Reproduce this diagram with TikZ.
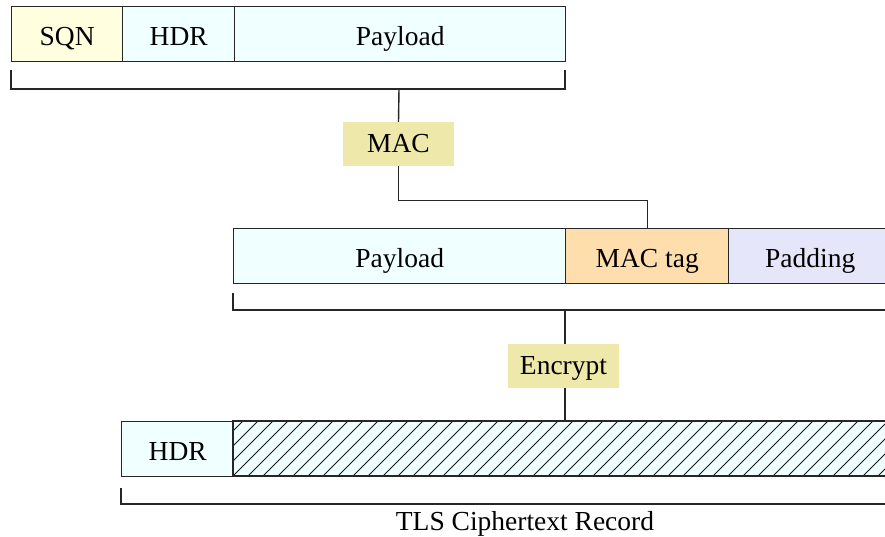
\documentclass[tikz,border=0pt]{standalone}
\usepackage{fontspec}
\setmainfont{Liberation Serif}
\definecolor{sqnc}{HTML}{FFFFE0}
\definecolor{cyanc}{HTML}{F0FFFF}
\definecolor{opc}{HTML}{EEE8AA}
\definecolor{tagc}{HTML}{FFDEAD}
\definecolor{padc}{HTML}{E6E6FA}
\begin{document}
\begin{tikzpicture}[x=1pt,y=-1pt,
  cell/.style={draw=black!85, line width=1.4pt, rectangle, inner sep=0pt,
    minimum height=55pt, text height=23.5pt, text depth=0pt,
    anchor=north west, font=\fontsize{27.5}{32}\selectfont},
  opbox/.style={fill=opc, rectangle, inner sep=0pt, minimum width=111pt,
    minimum height=44pt, text height=18.5pt, text depth=2pt,
    font=\fontsize{27.5}{32}\selectfont},
  wire/.style={draw=black!85, line width=1.4pt},
  hatchline/.style={draw=black!90, line width=0.8pt}]
\useasboundingbox (0,0) rectangle (885,536);
% row 1
\node[cell, fill=sqnc, minimum width=111pt] (sqn) at (11,6) {SQN};
\node[cell, fill=cyanc, minimum width=112pt] (hdr1) at (122,6) {HDR};
\node[cell, fill=cyanc, minimum width=331pt] (pay1) at (234,6) {Payload};
\draw[wire] (11,70) -- (11,89) -- (565,89) -- (565,70);
\coordinate (b1) at (399,89);
% MAC
\node[opbox] (mac) at (398.5,144) {MAC};
\draw[wire] (b1) -- (mac.north);
% row 2
\node[cell, fill=cyanc, minimum width=332pt] (pay2) at (233,228) {Payload};
\node[cell, fill=tagc, minimum width=163pt] (tag) at (565,228) {MAC tag};
\node[cell, fill=padc, minimum width=163pt] (pad) at (728,228) {Padding};
\draw[wire] (mac.south) -- ++(0,34) -| (tag.north);
\draw[wire] (233,293) -- (233,310) -- (895,310);
\coordinate (b2) at (565,310);
% Encrypt
\node[opbox] (enc) at (563.5,366) {Encrypt};
\draw[wire] (b2) -- (b2 |- enc.north);
% row 3
\node[cell, fill=cyanc, minimum width=112pt] (hdr3) at (121,421) {HDR};
\node[cell, fill=cyanc, minimum width=670pt] (ct) at (233,421) {};
\begin{scope}
  \clip (233,421) rectangle (903,476);
  \foreach \k in {-4,...,46} {
    \draw[hatchline] (233+\k*15,476) -- (233+\k*15+55,421);
  }
\end{scope}
\draw[wire] (233,421) rectangle (903,476);
\draw[wire] (b2 |- enc.south) -- (b2 |- ct.north);
\draw[wire] (121,488) -- (121,504) -- (895,504);
\node[font=\fontsize{27.5}{32}\selectfont, inner sep=0pt, anchor=base] (lbl) at (525,530) {TLS Ciphertext Record};
\end{tikzpicture}
\end{document}
